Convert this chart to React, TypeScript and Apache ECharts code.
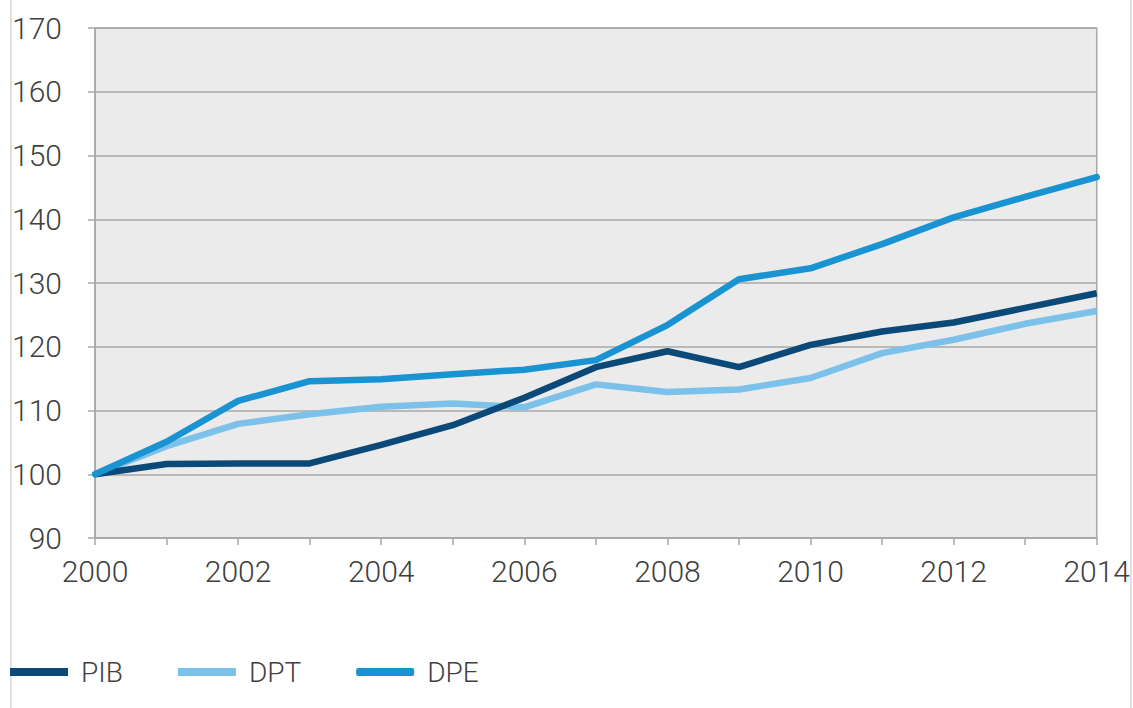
import React, { useEffect, useRef } from "react";
import * as echarts from "echarts";

const years = ["2000","2001","2002","2003","2004","2005","2006","2007","2008","2009","2010","2011","2012","2013","2014"];
const pib = [100, 101.6, 101.7, 101.7, 104.6, 107.7, 112.0, 116.8, 119.3, 116.8, 120.3, 122.4, 123.8, 126.1, 128.4];
const dpt = [100, 104.4, 107.9, 109.4, 110.6, 111.1, 110.5, 114.1, 112.9, 113.3, 115.1, 119.0, 121.1, 123.6, 125.6];
const dpe = [100, 105.1, 111.5, 114.6, 114.9, 115.7, 116.4, 117.9, 123.4, 130.6, 132.3, 136.1, 140.3, 143.5, 146.6];
const seriesNames = ["PIB", "DPT", "DPE"];
const seriesColors = ["#0b4a78", "#7cc1ea", "#1a93d2"];

export default function App() {
  const ref = useRef<HTMLDivElement>(null);
  useEffect(() => {
    if (!ref.current) return;
    const chart = echarts.init(ref.current, null, { renderer: "svg" });
    const font = "Roboto";
    const textColor = "#404040";
    chart.setOption({
      animation: false,
      backgroundColor: "#ffffff",
      textStyle: { fontFamily: font },
      grid: {
        left: 95,
        right: 36,
        top: 28,
        bottom: 170,
        show: true,
        backgroundColor: "#ebebeb",
        borderColor: "#a8a8a8",
        borderWidth: 1.5,
      },
      legend: {
        left: 10,
        top: 658,
        padding: 0,
        itemWidth: 58,
        itemHeight: 8,
        itemGap: 55,
        textStyle: { fontFamily: font, fontWeight: 300, fontSize: 28, color: textColor, padding: [0, 0, 0, 8] },
        data: [
          { name: "PIB", icon: "rect" },
          { name: "DPT", icon: "rect" },
          { name: "DPE", icon: "roundRect" },
        ],
      },
      xAxis: {
        type: "category",
        data: years,
        boundaryGap: false,
        axisLine: { show: true, lineStyle: { color: "#a8a8a8", width: 1.5 } },
        axisTick: { show: true, interval: 0, length: 7, lineStyle: { color: "#a8a8a8", width: 1.5 } },
        axisLabel: {
          interval: 1,
          margin: 18,
          fontFamily: font,
          fontWeight: 300,
          fontSize: 30,
          color: textColor,
        },
        splitLine: { show: false },
      },
      yAxis: {
        type: "value",
        min: 90,
        max: 170,
        interval: 10,
        axisLine: { show: true, lineStyle: { color: "#a8a8a8", width: 1.5 } },
        axisTick: { show: true, length: 7, lineStyle: { color: "#a8a8a8", width: 1.5 } },
        axisLabel: {
          margin: 33,
          fontFamily: font,
          fontWeight: 300,
          fontSize: 30,
          color: textColor,
        },
        splitLine: { show: true, lineStyle: { color: "#a8a8a8", width: 1.5 } },
      },
      graphic: [
        { type: "line", shape: { x1: 11, y1: 0, x2: 11, y2: 708 }, style: { stroke: "#d4d4d4", lineWidth: 1.5 } },
        { type: "line", shape: { x1: 1131, y1: 0, x2: 1131, y2: 708 }, style: { stroke: "#d4d4d4", lineWidth: 1.5 } },
      ],
      series: [
        { name: seriesNames[1], type: "line", data: dpt, symbol: "none", color: seriesColors[1], lineStyle: { width: 6.5, color: seriesColors[1] } },
        { name: seriesNames[0], type: "line", data: pib, symbol: "none", color: seriesColors[0], lineStyle: { width: 6.5, color: seriesColors[0] } },
        { name: seriesNames[2], type: "line", data: dpe, symbol: "none", color: seriesColors[2], lineStyle: { width: 6.5, color: seriesColors[2], cap: "round" } },
      ],
    });
    return () => chart.dispose();
  }, []);
  return <div ref={ref} style={{ position: "fixed", left: 0, top: 0, width: 1133, height: 708 }} />;
}
